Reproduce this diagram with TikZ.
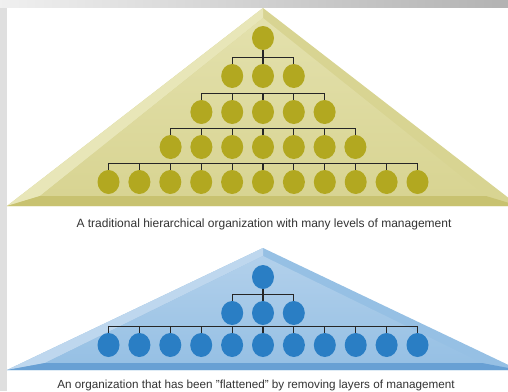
\documentclass[tikz,border=0pt]{standalone}
\usepackage{fontspec}
\setmainfont{Liberation Sans}
\usetikzlibrary{shapes.geometric}
\definecolor{olivedot}{RGB}{178,168,32}
\definecolor{olivefill}{RGB}{216,212,146}
\definecolor{olivelight}{RGB}{232,230,184}
\definecolor{olivedark}{RGB}{200,194,112}
\definecolor{bluedot}{RGB}{42,126,196}
\definecolor{bluefill}{RGB}{150,192,228}
\definecolor{bluelight}{RGB}{190,215,238}
\definecolor{bluedark}{RGB}{104,160,212}
\tikzset{
  olivenode/.style={ellipse, fill=olivedot, minimum width=22pt, minimum height=24pt, inner sep=0pt},
  bluenode/.style={ellipse, fill=bluedot, minimum width=22pt, minimum height=24pt, inner sep=0pt},
  tree/.style={draw=black!85, line width=1.1pt},
  caption/.style={font=\fontsize{12}{14}\selectfont, text=black!80}
}
\begin{document}
\begin{tikzpicture}[x=1pt, y=-1pt]
  \useasboundingbox (0,0) rectangle (508,391);
  % background frame
  \shade[left color=gray!12, right color=gray!60] (0,0) rectangle (508,8);
  \fill[gray!25] (0,8) rectangle (7,391);
  \fill[white] (7,8) rectangle (508,391);

  % traditional pyramid
  \fill[olivefill] (263,8) -- (7,206) -- (519,206) -- cycle;
  \fill[olivelight] (263,8) -- (7,206) -- (40,196) -- (263,18) -- cycle;
  \shade[top color=olivelight!70!olivefill, bottom color=olivefill] (263,18) -- (40,196) -- (486,196) -- cycle;
  \fill[olivedark] (7,206) -- (40,196) -- (486,196) -- (519,206) -- cycle;

  \node[olivenode] (t1-1) at (263,38) {};
  \foreach \n in {1,...,3}
    \node[olivenode] (t2-\n) at ({263+(\n-2)*30.8},76) {};
  \foreach \n in {1,...,5}
    \node[olivenode] (t3-\n) at ({263+(\n-3)*30.8},112) {};
  \foreach \n in {1,...,7}
    \node[olivenode] (t4-\n) at ({263+(\n-4)*30.8},147) {};
  \foreach \n in {1,...,11}
    \node[olivenode] (t5-\n) at ({263+(\n-6)*30.9},182) {};

  \draw[tree] (t1-1.south) -- (t2-2.north);
  \draw[tree] (t2-1.north) -- ++(0,-6) -| (t2-3.north);
  \draw[tree] (t3-1.north) -- ++(0,-6) -| (t3-5.north);
  \foreach \n in {2,...,4}
    \draw[tree] (t3-\n.north) -- ++(0,-6);
  \draw[tree] (t4-1.north) -- ++(0,-6) -| (t4-7.north);
  \foreach \n in {2,...,6}
    \draw[tree] (t4-\n.north) -- ++(0,-6);
  \draw[tree] (t5-1.north) -- ++(0,-6) -| (t5-11.north);
  \foreach \n in {2,...,10}
    \draw[tree] (t5-\n.north) -- ++(0,-6);

  \node[caption] (tradtext) at (264,224) {A traditional hierarchical organization with many levels of management};

  % flattened pyramid
  \fill[bluefill] (263,248) -- (7,370) -- (519,370) -- cycle;
  \fill[bluelight] (263,248) -- (7,370) -- (45,363) -- (263,256) -- cycle;
  \shade[top color=bluelight!70!bluefill, bottom color=bluefill] (263,256) -- (45,363) -- (482,363) -- cycle;
  \fill[bluedark] (7,370) -- (45,363) -- (482,363) -- (519,370) -- cycle;

  \node[bluenode] (f1-1) at (263,277) {};
  \foreach \n in {1,...,3}
    \node[bluenode] (f2-\n) at ({263+(\n-2)*30.8},313) {};
  \foreach \n in {1,...,11}
    \node[bluenode] (f3-\n) at ({263+(\n-6)*30.9},345) {};

  \draw[tree] (f1-1.south) -- (f2-2.north);
  \draw[tree] (f2-1.north) -- ++(0,-6) -| (f2-3.north);
  \draw[tree] (f3-1.north) -- ++(0,-6) -| (f3-11.north);
  \foreach \n in {2,...,10}
    \draw[tree] (f3-\n.north) -- ++(0,-6);

  \node[caption, font=\fontsize{11.7}{14}\selectfont] (flattext) at (256,385) {An organization that has been "flattened" by removing layers of management};
\end{tikzpicture}
\end{document}
